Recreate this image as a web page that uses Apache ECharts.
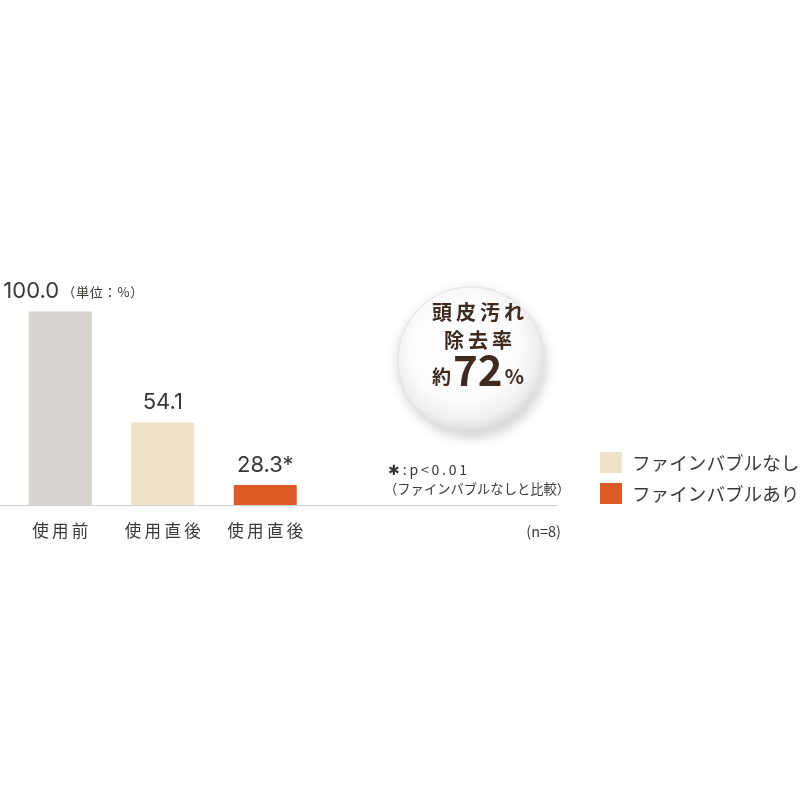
<!DOCTYPE html>
<html style="height: 100%">
<head>
    <meta charset="UTF-8">
</head>
<body style="height: 100%; margin: 0; background: #fff">
<div id="container" style="width: 800px; height: 800px"></div>

<script type="text/javascript" src="https://cdn.jsdelivr.net/npm/echarts@6/dist/echarts.min.js"></script>
<script type="text/javascript">
    // data
    let categories = ['使用前', '使用直後', '使用直後'];
    let seriesNames = ['使用前', 'ファインバブルなし', 'ファインバブルあり'];
    let values = [100.0, 54.1, 28.3];
    let valueLabels = ['100.0', '54.1', '28.3*'];
    let colors = ['#d7d4d0', '#eee2c9', '#dc5a24'];

    var dom = document.getElementById("container");
    var myChart = echarts.init(dom);
    var option;

    let font = 'Noto Sans CJK JP';
    let numFont = 'Inter';
    let textColor = '#3b3835';
    let bubbleColor = '#3e2a1e';

    // the picture uses wide letter spacing, fake it with thin spaces
    function spaced(s, sp) {
        return s.split('').join(sp || '\u2009');
    }

    let series = [];
    for (let i = 0; i < values.length; i++) {
        let data = values.map(function (v, j) { return j === i ? v : '-'; });
        series.push({
            name: seriesNames[i],
            type: 'bar',
            stack: 'all',
            barWidth: 63,
            data: data,
            itemStyle: { color: colors[i] },
            label: {
                show: true,
                position: 'top',
                distance: 9,
                offset: i === 0 ? [13, 0] : [0, 0],
                formatter: i === 0
                    ? '{v|' + valueLabels[i] + '}{u|' + spaced('（単位：%）', '\u200a') + '}'
                    : '{v|' + valueLabels[i] + '}',
                rich: {
                    v: { fontSize: 22, fontFamily: numFont, color: textColor },
                    u: { fontSize: 13, fontFamily: font, color: textColor, padding: [2, 0, 0, 3] }
                }
            }
        });
    }

    option = {
        backgroundColor: '#ffffff',
        animation: false,
        grid: {
            left: 9,
            width: 307.5,
            top: 311.5,
            bottom: 295
        },
        legend: {
            data: [seriesNames[1], seriesNames[2]],
            orient: 'vertical',
            left: 600,
            top: 452,
            padding: 0,
            itemWidth: 22,
            itemHeight: 21,
            itemGap: 10,
            icon: 'rect',
            textStyle: {
                fontFamily: font,
                fontSize: 18.6,
                color: '#3a3a3a',
                padding: [0, 0, 0, 5]
            }
        },
        xAxis: {
            type: 'category',
            data: categories,
            axisLine: { show: false },
            axisTick: { show: false },
            axisLabel: {
                margin: 17,
                fontFamily: font,
                fontSize: 16.5,
                color: textColor,
                formatter: function (v) { return spaced(v); }
            }
        },
        yAxis: {
            type: 'value',
            min: 20,
            max: 100,
            show: false
        },
        graphic: [
            {
                type: 'line',
                shape: { x1: 0, y1: 505.5, x2: 558, y2: 505.5 },
                style: { stroke: '#cfcfcf', lineWidth: 1 },
                z: 10
            },
            {
                type: 'circle',
                shape: { cx: 471, cy: 360, r: 73 },
                style: {
                    fill: new echarts.graphic.RadialGradient(0.45, 0.4, 0.62, [
                        { offset: 0, color: '#ffffff' },
                        { offset: 0.6, color: '#fcfcfc' },
                        { offset: 0.82, color: '#f0f0f0' },
                        { offset: 1, color: '#d6d6d6' }
                    ]),
                    stroke: '#e4e4e4',
                    lineWidth: 1,
                    shadowBlur: 12,
                    shadowColor: 'rgba(0,0,0,0.18)',
                    shadowOffsetX: 1,
                    shadowOffsetY: 4
                }
            },
            {
                type: 'text',
                x: 478, y: 312,
                style: {
                    text: spaced('頭皮汚れ'),
                    fontFamily: font, fontSize: 20, fontWeight: 'bold',
                    fill: bubbleColor, align: 'center', verticalAlign: 'middle'
                }
            },
            {
                type: 'text',
                x: 478, y: 340,
                style: {
                    text: spaced('除去率'),
                    fontFamily: font, fontSize: 20, fontWeight: 'bold',
                    fill: bubbleColor, align: 'center', verticalAlign: 'middle'
                }
            },
            {
                type: 'text',
                x: 478, y: 370,
                style: {
                    text: '{a|約}{b|72}{c|%}',
                    align: 'center', verticalAlign: 'middle',
                    rich: {
                        a: { fontFamily: font, fontSize: 19, fontWeight: 'bold', fill: bubbleColor, padding: [14, 2, 0, 0] },
                        b: { fontFamily: font, fontSize: 42, fontWeight: 'bold', fill: bubbleColor },
                        c: { fontFamily: font, fontSize: 20, fontWeight: 'bold', fill: bubbleColor, padding: [12, 0, 0, 2] }
                    }
                }
            },
            {
                type: 'text',
                x: 388, y: 470,
                style: {
                    text: spaced('✱:p<0.01'),
                    fontFamily: font, fontSize: 14,
                    fill: textColor, verticalAlign: 'middle'
                }
            },
            {
                type: 'text',
                x: 384, y: 489,
                style: {
                    text: '（ファインバブルなしと比較）',
                    fontFamily: font, fontSize: 13.3,
                    fill: textColor, verticalAlign: 'middle'
                }
            },
            {
                type: 'text',
                x: 561, y: 531,
                style: {
                    text: '(n=8)',
                    fontFamily: font, fontSize: 14.5,
                    fill: textColor, align: 'right', verticalAlign: 'middle'
                }
            }
        ],
        series: series
    };

    if (option && typeof option === 'object') {
        myChart.setOption(option);
    }
</script>
</body>
</html>
